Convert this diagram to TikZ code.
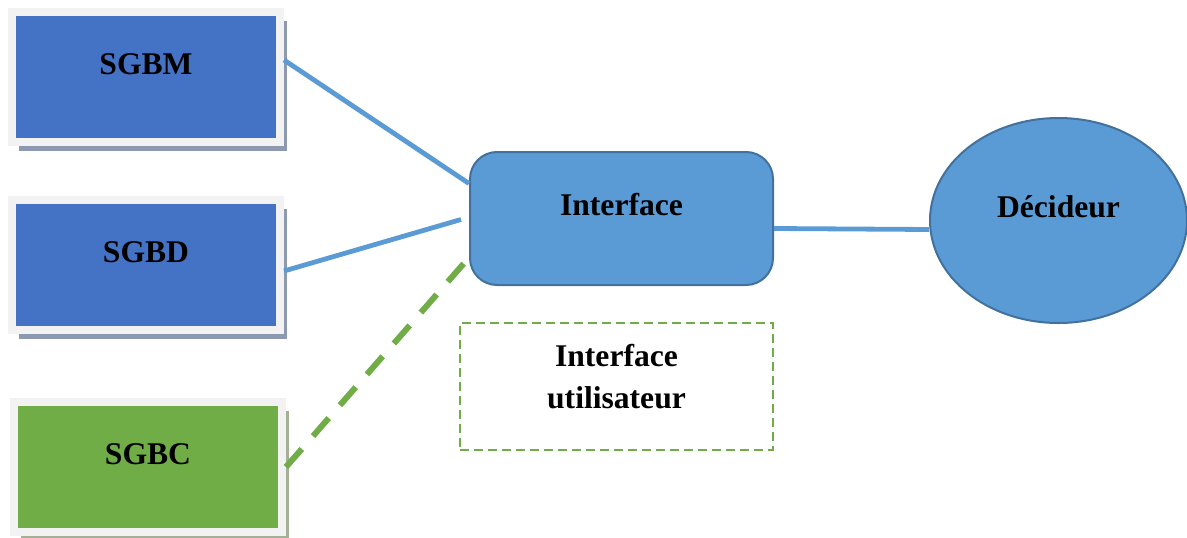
\documentclass[tikz,border=0pt]{standalone}
\usepackage{fontspec}
\setmainfont{Liberation Serif}
\usepackage{xcolor}
\usepackage{tikz}
\usetikzlibrary{shapes.geometric, shadows, positioning}

\definecolor{bleuF}{HTML}{4472C4}
\definecolor{bleuC}{HTML}{5B9BD5}
\definecolor{bleuB}{HTML}{41719C}
\definecolor{vert}{HTML}{70AD47}
\definecolor{cadre}{HTML}{F2F2F2}
\definecolor{ombreB}{HTML}{8C99B0}
\definecolor{ombreV}{HTML}{A3B096}

\tikzset{
    txt/.style={font=\fontsize{15.8}{21}\selectfont\bfseries},
    haut/.style={text height=6pt, text depth=9pt},
    base/.style={txt, haut, draw=cadre, line width=4pt, inner sep=0pt,
        minimum width=134pt, minimum height=65pt},
    sgbbleu/.style={base, fill=bleuF,
        drop shadow={shadow xshift=3.5pt, shadow yshift=-4.5pt, fill=ombreB, opacity=1}},
    sgbvert/.style={base, fill=vert,
        drop shadow={shadow xshift=3.5pt, shadow yshift=-4.5pt, fill=ombreV, opacity=1}},
    lien/.style={draw=bleuC, line width=2.4pt},
    lienv/.style={draw=vert, line width=3pt, dash pattern=on 12pt off 8.5pt}
}

\begin{document}
\begin{tikzpicture}[x=0.5pt, y=0.5pt]
    \useasboundingbox (0,0) rectangle (1187,537);
    % =================================================================
    % 1. Les trois sous-systemes (a gauche)
    % =================================================================
    \node[sgbbleu] (sgbm) at (146,460) {SGBM};
    \node[sgbbleu] (sgbd) at (146,272) {SGBD};
    \node[sgbvert] (sgbc) at (148,70) {SGBC};

    % Interface et decideur
    \node[txt, haut, draw=bleuB, fill=bleuC, line width=1pt, rounded corners=13.5pt,
        minimum width=151.5pt, minimum height=66.5pt] (interface) at (621.5,318.5) {Interface};
    \node[txt, draw=vert, line width=1pt, dash pattern=on 4.5pt off 2.5pt, align=center,
        text depth=10pt, minimum width=156.5pt, minimum height=63.5pt] (userint) at (616.5,150.5) {Interface\\utilisateur};
    \node[txt, haut, ellipse, draw=bleuB, fill=bleuC, line width=1pt, inner sep=0pt,
        minimum width=128.5pt, minimum height=102.5pt] (decideur) at (1058.5,316.5) {Décideur};

    % Les liaisons
    \draw[lien] ([yshift=8.5pt]sgbm.east) -- ([yshift=17.5pt]interface.west);
    \draw[lien] ([yshift=-3pt]sgbd.east) -- ([xshift=-4pt, yshift=-0.5pt]interface.west);
    \draw[lienv] (sgbc.east) -- ([yshift=-19.5pt]interface.west);
    \draw[lien] ([yshift=-5pt]interface.east) -- ([yshift=-4.5pt]decideur.west);
\end{tikzpicture}
\end{document}
